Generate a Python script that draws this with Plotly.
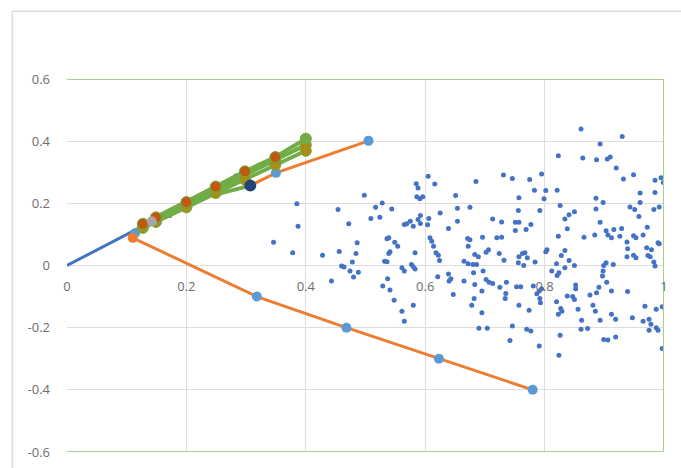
import plotly.graph_objects as go

# ---------------- data ----------------
x_ticks = [0, 0.2, 0.4, 0.6, 0.8, 1]
x_tick_text = ["0", "0.2", "0.4", "0.6", "0.8", "1"]
y_ticks = [-0.6, -0.4, -0.2, 0, 0.2, 0.4, 0.6]
y_tick_text = ["-0.6", "-0.4", "-0.2", "0", "0.2", "0.4", "0.6"]

frame_x = [0, 1, 1, 0]
frame_y = [0.6, 0.6, -0.6, -0.6]

scatter_points = [
    (0.172, 0.161), (0.283, 0.288),
    (0.385, 0.199), (0.387, 0.126), (0.346, 0.075), (0.454, 0.180), (0.498, 0.226),
    (0.517, 0.187), (0.528, 0.201), (0.544, 0.182), (0.509, 0.151), (0.524, 0.155),
    (0.472, 0.134), (0.486, 0.073), (0.536, 0.086), (0.539, 0.089), (0.549, 0.075),
    (0.565, 0.132),
    (0.378, 0.041), (0.428, 0.033), (0.456, 0.045), (0.484, 0.039), (0.478, 0.011),
    (0.460, -0.002), (0.464, -0.005), (0.474, -0.018), (0.488, -0.022), (0.480, -0.037),
    (0.443, -0.050), (0.554, 0.062), (0.541, 0.044), (0.539, 0.039), (0.532, 0.014),
    (0.536, 0.012), (0.561, -0.007), (0.537, -0.043), (0.529, -0.066), (0.541, -0.079),
    (0.548, -0.112), (0.561, -0.147), (0.565, -0.179),
    (0.605, 0.287), (0.585, 0.263), (0.588, 0.249), (0.616, 0.262), (0.685, 0.270),
    (0.731, 0.291), (0.746, 0.280), (0.775, 0.277), (0.783, 0.242), (0.586, 0.221),
    (0.591, 0.215), (0.596, 0.221), (0.651, 0.225), (0.757, 0.218), (0.654, 0.184),
    (0.675, 0.187), (0.756, 0.177), (0.625, 0.169), (0.592, 0.161), (0.606, 0.151),
    (0.569, 0.134), (0.575, 0.142), (0.580, 0.126), (0.588, 0.148), (0.592, 0.135),
    (0.604, 0.131), (0.654, 0.142), (0.639, 0.119), (0.713, 0.150), (0.728, 0.140),
    (0.751, 0.139), (0.757, 0.139), (0.777, 0.132), (0.751, 0.113), (0.769, 0.116),
    (0.608, 0.089), (0.611, 0.078), (0.671, 0.087), (0.696, 0.091), (0.720, 0.089),
    (0.728, 0.091),
    (0.614, 0.062), (0.618, 0.041), (0.622, 0.033), (0.624, 0.016), (0.583, 0.041),
    (0.577, 0.003), (0.583, -0.011), (0.580, -0.004), (0.565, -0.018), (0.672, 0.062),
    (0.675, 0.083), (0.706, 0.051), (0.702, 0.043), (0.683, 0.035), (0.689, 0.028),
    (0.724, 0.039), (0.732, 0.017), (0.665, 0.014), (0.672, 0.006), (0.680, 0.003),
    (0.686, 0.003), (0.757, 0.028), (0.756, 0.009), (0.767, 0.041), (0.771, 0.025),
    (0.765, 0.000), (0.763, 0.039), (0.681, -0.023), (0.697, -0.018), (0.621, -0.036),
    (0.639, -0.027), (0.643, -0.043), (0.640, -0.050), (0.665, -0.050), (0.683, -0.061),
    (0.702, -0.045), (0.707, -0.054), (0.713, -0.058), (0.736, -0.054), (0.725, -0.070),
    (0.753, -0.068), (0.760, -0.068), (0.781, -0.066), (0.695, -0.082), (0.647, -0.093),
    (0.735, -0.090), (0.734, -0.106), (0.682, -0.106), (0.678, -0.128), (0.580, -0.128),
    (0.757, -0.128), (0.774, -0.144), (0.695, -0.152), (0.690, -0.202), (0.704, -0.202),
    (0.746, -0.195), (0.770, -0.205), (0.777, -0.211), (0.742, -0.241),
    (0.861, 0.439), (0.930, 0.415), (0.893, 0.391), (0.823, 0.353), (0.864, 0.346),
    (0.887, 0.340), (0.905, 0.343), (0.910, 0.349), (0.920, 0.314), (0.795, 0.294),
    (0.932, 0.278), (0.949, 0.292), (0.985, 0.274), (0.995, 0.282), (0.999, 0.267),
    (0.802, 0.241), (0.821, 0.242), (0.799, 0.215), (0.960, 0.233), (0.985, 0.235),
    (0.886, 0.216), (0.898, 0.203), (0.960, 0.203), (0.792, 0.177), (0.826, 0.193),
    (0.850, 0.173), (0.841, 0.163), (0.834, 0.150), (0.886, 0.182), (0.943, 0.188),
    (0.951, 0.180), (0.983, 0.180), (0.992, 0.188), (0.958, 0.158), (0.893, 0.139),
    (0.838, 0.118), (0.972, 0.123), (0.823, 0.094), (0.866, 0.091), (0.884, 0.098),
    (0.903, 0.112), (0.906, 0.098), (0.916, 0.116), (0.929, 0.119), (0.912, 0.089),
    (0.926, 0.094), (0.949, 0.096), (0.953, 0.089), (0.965, 0.098), (0.938, 0.076),
    (0.990, 0.073),
    (0.939, 0.054), (0.971, 0.057), (0.979, 0.051), (0.992, 0.070), (0.938, 0.028),
    (0.949, 0.033), (0.953, 0.025), (0.973, 0.032), (0.977, 0.028), (0.983, 0.011),
    (0.985, -0.002), (0.802, 0.044), (0.804, 0.051), (0.828, 0.032), (0.834, 0.048),
    (0.784, 0.011), (0.820, 0.006), (0.841, 0.016), (0.850, 0.000), (0.834, -0.007),
    (0.812, -0.018), (0.824, -0.023), (0.821, -0.032), (0.903, 0.009), (0.899, 0.000),
    (0.915, 0.003), (0.898, -0.018), (0.897, -0.034), (0.904, -0.054), (0.891, -0.070),
    (0.852, -0.063), (0.852, -0.075), (0.912, -0.082), (0.939, -0.084), (0.887, -0.088),
    (0.876, -0.095), (0.795, -0.075), (0.791, -0.082), (0.787, -0.091), (0.792, -0.106),
    (0.793, -0.120), (0.838, -0.098), (0.847, -0.100), (0.850, -0.109), (0.820, -0.117),
    (0.827, -0.138), (0.829, -0.147), (0.823, -0.157), (0.881, -0.128), (0.885, -0.147),
    (0.856, -0.141), (0.968, -0.131), (0.987, -0.141), (0.997, -0.133), (0.912, -0.157),
    (0.919, -0.173), (0.893, -0.176), (0.862, -0.176), (0.947, -0.168), (0.965, -0.179),
    (0.975, -0.173), (0.978, -0.189), (0.987, -0.200), (0.990, -0.208), (0.975, -0.208),
    (0.861, -0.205), (0.872, -0.203), (0.826, -0.224), (0.899, -0.238), (0.906, -0.240),
    (0.919, -0.230), (0.791, -0.259), (0.824, -0.289), (0.997, -0.267),
]
scatter_x = [p[0] for p in scatter_points]
scatter_y = [p[1] for p in scatter_points]

blue_line_x = [0, 0.118]
blue_line_y = [0, 0.118]

orange_low_x = [0.11, 0.318, 0.468, 0.623, 0.780]
orange_low_y = [0.089, -0.100, -0.200, -0.300, -0.400]

orange_up_x = [0.307, 0.350, 0.505]
orange_up_y = [0.257, 0.298, 0.401]

tip_marker_x = [0.114]
tip_marker_y = [0.104]

green_x = [0.127, 0.149, 0.200, 0.249, 0.298, 0.349, 0.400]
green_top_y = [0.134, 0.155, 0.204, 0.254, 0.303, 0.349, 0.408]
green_mid_y = [0.128, 0.148, 0.196, 0.244, 0.290, 0.337, 0.388]
green_low_y = [0.121, 0.140, 0.187, 0.233, 0.276, 0.324, 0.369]
green_kink_x = [0.249, 0.307]
green_kink_y = [0.228, 0.257]

grey_point_x = [0.142]
grey_point_y = [0.142]

navy_point_x = [0.307]
navy_point_y = [0.257]

# ---------------- styles ----------------
BLUE = "#4472C4"
ORANGE = "#ED7D31"
LIGHTBLUE = "#5B9BD5"
GREEN = "#70AD47"
FRAME_GREEN = "#A9D18E"
BROWN = "#C0590F"
OLIVE = "#B08A10"
GREY = "#A5A5A5"
NAVY = "#264478"
GRID = "#DDDDDD"
TEXT = "#6E6E6E"

fig = go.Figure()

fig.add_trace(go.Scatter(x=scatter_x, y=scatter_y, mode="markers",
                         marker=dict(size=5, color=BLUE), hoverinfo="skip"))

fig.add_trace(go.Scatter(x=frame_x, y=frame_y, mode="lines", cliponaxis=False,
                         line=dict(color=FRAME_GREEN, width=2.2), hoverinfo="skip"))

fig.add_trace(go.Scatter(x=blue_line_x, y=blue_line_y, mode="lines",
                         line=dict(color=BLUE, width=3), hoverinfo="skip"))

fig.add_trace(go.Scatter(x=tip_marker_x, y=tip_marker_y, mode="markers",
                         marker=dict(size=10, color=LIGHTBLUE), hoverinfo="skip"))

fig.add_trace(go.Scatter(x=orange_low_x, y=orange_low_y, mode="lines+markers",
                         line=dict(color=ORANGE, width=3),
                         marker=dict(size=10, color=[ORANGE] + [LIGHTBLUE] * (len(orange_low_x) - 1)),
                         hoverinfo="skip"))

fig.add_trace(go.Scatter(x=orange_up_x, y=orange_up_y, mode="lines+markers",
                         line=dict(color=ORANGE, width=3),
                         marker=dict(size=10, color=LIGHTBLUE), hoverinfo="skip"))

fig.add_trace(go.Scatter(x=green_kink_x, y=green_kink_y, mode="lines",
                         line=dict(color=GREEN, width=4), hoverinfo="skip"))

for gy, mc in [(green_low_y, OLIVE), (green_mid_y, OLIVE), (green_top_y, BROWN)]:
    colors = [mc] * len(gy)
    fig.add_trace(go.Scatter(x=green_x, y=gy, mode="lines+markers",
                             line=dict(color=GREEN, width=4),
                             marker=dict(size=11, color=colors,
                                         line=dict(color=GREEN, width=1)),
                             hoverinfo="skip"))

fig.add_trace(go.Scatter(x=[green_x[-1]], y=[green_top_y[-1]], mode="markers",
                         marker=dict(size=11, color=GREEN), hoverinfo="skip"))

fig.add_trace(go.Scatter(x=grey_point_x, y=grey_point_y, mode="markers",
                         marker=dict(size=10, color=GREY), hoverinfo="skip"))

fig.add_trace(go.Scatter(x=navy_point_x, y=navy_point_y, mode="markers",
                         marker=dict(size=12, color=NAVY), hoverinfo="skip"))

fig.update_layout(
    width=681, height=468,
    margin=dict(l=67, r=17, t=79, b=16, autoexpand=False),
    paper_bgcolor="white", plot_bgcolor="white",
    showlegend=False,
    font=dict(family="Open Sans", size=13, color=TEXT),
    xaxis=dict(range=[0, 1], tickvals=x_ticks, ticktext=x_tick_text,
               showgrid=True, gridcolor=GRID, gridwidth=1, zeroline=False,
               showline=False, ticks="", anchor="free", position=0.5,
               ticklabelstandoff=11, fixedrange=True, automargin=False),
    yaxis=dict(range=[-0.6, 0.6], tickvals=y_ticks, ticktext=y_tick_text,
               showgrid=True, gridcolor=GRID, gridwidth=1, zeroline=False,
               showline=False, ticks="", ticklabelstandoff=16, fixedrange=True,
               automargin=False),
    shapes=[
        dict(type="line", xref="paper", yref="paper", x0=-0.0916, x1=1.05,
             y0=1.1818, y1=1.1818, line=dict(color=GRID, width=1.5)),
        dict(type="line", xref="paper", yref="paper", x0=-0.0916, x1=-0.0916,
             y0=1.1818, y1=-0.1, line=dict(color=GRID, width=1.5)),
    ],
)

fig.write_html(
    "out.html",
    config={"displayModeBar": False, "staticPlot": True},
    post_script="document.body.style.margin='0';document.body.style.padding='0';"
                "document.documentElement.style.overflow='hidden';",
)
